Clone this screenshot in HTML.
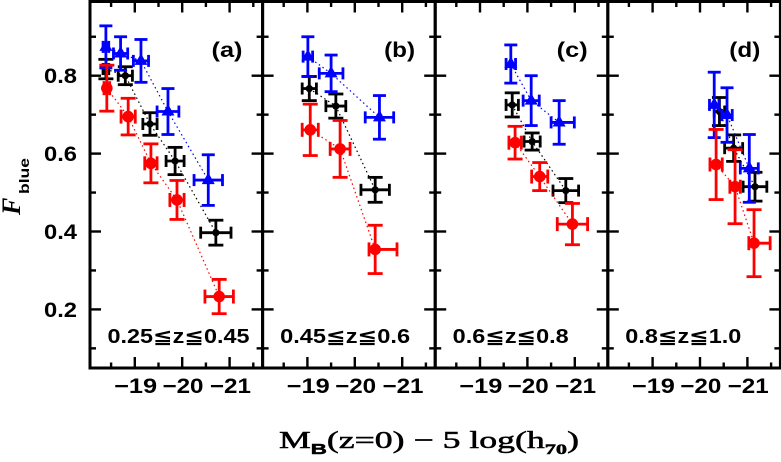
<!DOCTYPE html>
<html>
<head>
<meta charset="utf-8">
<title>F_blue vs magnitude</title>
<style>
html,body{margin:0;padding:0;background:#fff;width:781px;height:462px;overflow:hidden}
svg{display:block}
text{fill:#000;font-family:"Liberation Sans","DejaVu Sans",sans-serif;font-weight:bold}
</style>
</head>
<body>
<svg id="chart" xmlns="http://www.w3.org/2000/svg" width="781" height="462" viewBox="0 0 781 462">
<text x="279" y="448" font-size="24" textLength="300" lengthAdjust="spacingAndGlyphs" style="font-family:'Liberation Serif',serif;font-weight:normal;stroke:#000;stroke-width:0.5">M<tspan font-size="15" dy="6" style="font-family:'Liberation Sans',sans-serif;font-weight:bold">B</tspan><tspan dy="-6">(z=0) − 5 log(h</tspan><tspan font-size="15" dy="6" style="font-weight:bold">70</tspan><tspan dy="-6">)</tspan></text>
<text transform="translate(20,215) rotate(-90)" font-size="26" style="font-family:'Liberation Serif',serif;font-style:italic">F</text>
<text transform="translate(29,194) rotate(-90)" font-size="14" textLength="36" lengthAdjust="spacingAndGlyphs" style="font-family:'Liberation Sans',sans-serif">blue</text>
</svg>
<script>
const panelLetters = ['(a)', '(b)', '(c)', '(d)'];
const redshiftLabels = ['0.25≦z≦0.45', '0.45≦z≦0.6', '0.6≦z≦0.8', '0.8≦z≦1.0'];
const yMajorTicks = [0.2, 0.4, 0.6, 0.8];
const yMinorTicks = [0.1, 0.3, 0.5, 0.7, 0.9];
const yTickLabels = ['0.2', '0.4', '0.6', '0.8'];
const xMajorTicks = [19, 20, 21];
const xMinorTicks = [18.5, 19.5, 20.5, 21.5];
const xTickLabels = ['−19', '−20', '−21'];

const magBlueA = [18.39, 18.70, 19.13, 19.70, 20.55];
const fracBlueA = [0.874, 0.857, 0.838, 0.708, 0.532];
const fracErrBlueA = [0.054, 0.043, 0.055, 0.059, 0.065];
const magErrLoBlueA = [0.06, 0.15, 0.16, 0.23, 0.30];
const magErrHiBlueA = [0.06, 0.15, 0.16, 0.23, 0.30];

const magBlackA = [18.39, 18.80, 19.32, 19.85, 20.71];
const fracBlackA = [0.817, 0.800, 0.676, 0.581, 0.397];
const fracErrBlackA = [0.025, 0.023, 0.029, 0.035, 0.032];
const magErrLoBlackA = [0.06, 0.15, 0.15, 0.19, 0.32];
const magErrHiBlackA = [0.06, 0.15, 0.15, 0.19, 0.32];

const magRedA = [18.41, 18.86, 19.34, 19.89, 20.78];
const fracRedA = [0.768, 0.695, 0.575, 0.481, 0.233];
const fracErrRedA = [0.059, 0.047, 0.050, 0.050, 0.044];
const magErrLoRedA = [0.06, 0.15, 0.13, 0.15, 0.30];
const magErrHiRedA = [0.06, 0.15, 0.13, 0.15, 0.30];

const magBlueB = [19.01, 19.50, 20.52];
const fracBlueB = [0.849, 0.806, 0.693];
const fracErrBlueB = [0.051, 0.047, 0.056];
const magErrLoBlueB = [0.10, 0.25, 0.30];
const magErrHiBlueB = [0.10, 0.25, 0.30];

const magBlackB = [19.04, 19.60, 20.43];
const fracBlackB = [0.767, 0.722, 0.507];
const fracErrBlackB = [0.031, 0.031, 0.032];
const magErrLoBlackB = [0.15, 0.21, 0.30];
const magErrHiBlackB = [0.15, 0.21, 0.30];

const magRedB = [19.06, 19.69, 20.43];
const fracRedB = [0.661, 0.612, 0.354];
const fracErrRedB = [0.066, 0.073, 0.062];
const magErrLoRedB = [0.17, 0.21, 0.13];
const magErrHiRedB = [0.17, 0.21, 0.46];

const magBlueC = [19.65, 20.08, 20.67];
const fracBlueC = [0.830, 0.736, 0.680];
const fracErrBlueC = [0.049, 0.064, 0.056];
const magErrLoBlueC = [0.10, 0.17, 0.17];
const magErrHiBlueC = [0.10, 0.17, 0.32];

const magBlackC = [19.68, 20.10, 20.81];
const fracBlackC = [0.725, 0.631, 0.505];
const fracErrBlackC = [0.031, 0.022, 0.031];
const magErrLoBlackC = [0.13, 0.17, 0.27];
const magErrHiBlackC = [0.13, 0.17, 0.27];

const magRedC = [19.74, 20.26, 20.95];
const fracRedC = [0.628, 0.541, 0.419];
const fracErrRedC = [0.042, 0.036, 0.053];
const magErrLoRedC = [0.13, 0.17, 0.32];
const magErrHiRedC = [0.13, 0.17, 0.32];

const magBlueD = [20.30, 20.57, 21.04];
const fracBlueD = [0.725, 0.699, 0.562];
const fracErrBlueD = [0.084, 0.070, 0.087];
const magErrLoBlueD = [0.10, 0.11, 0.19];
const magErrHiBlueD = [0.10, 0.11, 0.19];

const magBlackD = [20.41, 20.71, 21.16];
const fracBlackD = [0.708, 0.614, 0.515];
const fracErrBlackD = [0.036, 0.034, 0.037];
const magErrLoBlackD = [0.11, 0.19, 0.25];
const magErrHiBlackD = [0.11, 0.19, 0.25];

const magRedD = [20.34, 20.74, 21.14];
const fracRedD = [0.572, 0.515, 0.370];
const fracErrRedD = [0.090, 0.095, 0.086];
const magErrLoRedD = [0.13, 0.11, 0.11];
const magErrHiRedD = [0.13, 0.11, 0.34];

const seriesByPanel = [
  { black: [magBlackA, fracBlackA, fracErrBlackA, magErrLoBlackA, magErrHiBlackA],
    blue: [magBlueA, fracBlueA, fracErrBlueA, magErrLoBlueA, magErrHiBlueA],
    red: [magRedA, fracRedA, fracErrRedA, magErrLoRedA, magErrHiRedA] },
  { black: [magBlackB, fracBlackB, fracErrBlackB, magErrLoBlackB, magErrHiBlackB],
    blue: [magBlueB, fracBlueB, fracErrBlueB, magErrLoBlueB, magErrHiBlueB],
    red: [magRedB, fracRedB, fracErrRedB, magErrLoRedB, magErrHiRedB] },
  { black: [magBlackC, fracBlackC, fracErrBlackC, magErrLoBlackC, magErrHiBlackC],
    blue: [magBlueC, fracBlueC, fracErrBlueC, magErrLoBlueC, magErrHiBlueC],
    red: [magRedC, fracRedC, fracErrRedC, magErrLoRedC, magErrHiRedC] },
  { black: [magBlackD, fracBlackD, fracErrBlackD, magErrLoBlackD, magErrHiBlackD],
    blue: [magBlueD, fracBlueD, fracErrBlueD, magErrLoBlueD, magErrHiBlueD],
    red: [magRedD, fracRedD, fracErrRedD, magErrLoRedD, magErrHiRedD] }
];

const NS = 'http://www.w3.org/2000/svg';
const svg = document.getElementById('chart');
const plotLeft = 90;
const panelW = 172.6;
const plotTop = 1.5;
const plotBottom = 368;
const xScale = 47.4;
const yScale = 389.5;
const seriesColors = { black: '#000000', blue: '#0000ff', red: '#ff0000' };
const seriesOrder = ['black', 'blue', 'red'];
const zLabelWidths = [142, 130, 116, 116];

function panelLeft(p) { return plotLeft + p * panelW; }
function xPos(p, mag) { return panelLeft(p) + 44.8 + (mag - 19) * xScale; }
function yPos(v) { return 75.7 + (0.8 - v) * yScale; }

function make(tag, attrs, parent) {
  const el = document.createElementNS(NS, tag);
  for (const k in attrs) el.setAttribute(k, attrs[k]);
  (parent || svg).appendChild(el);
  return el;
}
function segment(g, x1, y1, x2, y2, color, w) {
  return make('line', { x1: x1, y1: y1, x2: x2, y2: y2, stroke: color, 'stroke-width': w }, g);
}

seriesByPanel.forEach(function (panel, p) {
  const left = panelLeft(p);
  const right = left + panelW;
  const group = make('g', {});
  
  

  const frame = make('rect', { x: left, y: plotTop, width: panelW, height: plotBottom - plotTop, fill: 'none', stroke: '#000', 'stroke-width': 3 }, group);
  
  

  yMajorTicks.forEach(function (v) {
    segment(group, left, yPos(v), left + 11, yPos(v), '#000', 2.4);
    segment(group, right - 11, yPos(v), right, yPos(v), '#000', 2.4);
  });
  yMinorTicks.forEach(function (v) {
    segment(group, left, yPos(v), left + 6, yPos(v), '#000', 2.4);
    segment(group, right - 6, yPos(v), right, yPos(v), '#000', 2.4);
  });
  xMajorTicks.forEach(function (m, i) {
    const x = xPos(p, m);
    segment(group, x, plotBottom - 11, x, plotBottom, '#000', 2.4);
    segment(group, x, plotTop, x, plotTop + 11, '#000', 2.4);
    const label = make('text', { x: x + 0.8, y: 393, 'font-size': 21, 'text-anchor': 'middle', textLength: i === 0 ? 43 : 41, lengthAdjust: 'spacingAndGlyphs' }, group);
    label.textContent = xTickLabels[i];
    
    
  });
  xMinorTicks.forEach(function (m) {
    const x = xPos(p, m);
    segment(group, x, plotBottom - 5.5, x, plotBottom, '#000', 2.4);
    segment(group, x, plotTop, x, plotTop + 5.5, '#000', 2.4);
  });

  const letter = make('text', { x: left + 137, y: 57, 'font-size': 21, 'text-anchor': 'middle', textLength: 31, lengthAdjust: 'spacingAndGlyphs' }, group);
  letter.textContent = panelLetters[p];
  
  

  const zText = make('text', { x: left + 17.5, y: 343, 'font-size': 20, textLength: zLabelWidths[p], lengthAdjust: 'spacingAndGlyphs' }, group);
  zText.textContent = redshiftLabels[p];
  
  

  seriesOrder.forEach(function (key) {
    const color = seriesColors[key];
    const s = panel[key];
    const mags = s[0], fracs = s[1], fErr = s[2], lo = s[3], hi = s[4];
    const sg = make('g', {}, group);
    
    

    const pts = mags.map(function (m, i) { return xPos(p, m).toFixed(1) + ',' + yPos(fracs[i]).toFixed(1); }).join(' ');
    const trend = make('polyline', { points: pts, fill: 'none', stroke: color, 'stroke-width': 1.2, 'stroke-dasharray': '1.5 3' }, sg);
    
    

    mags.forEach(function (m, i) {
      const x = xPos(p, m), y = yPos(fracs[i]);
      const yT = yPos(fracs[i] + fErr[i]), yB = yPos(fracs[i] - fErr[i]);
      const xL = xPos(p, m - lo[i]), xR = xPos(p, m + hi[i]);
      const capY = key === 'blue' ? 6.5 : 7.5;
      const capX = key === 'red' ? 7 : 6;
      const w = 2.8;
      segment(sg, x, yT, x, yB, color, w);
      segment(sg, x - capY, yT, x + capY, yT, color, w);
      segment(sg, x - capY, yB, x + capY, yB, color, w);
      segment(sg, xL, y, xR, y, color, w);
      segment(sg, xL, y - capX, xL, y + capX, color, w);
      segment(sg, xR, y - capX, xR, y + capX, color, w);
      let mark;
      if (key === 'blue') {
        mark = make('polygon', { points: [x, y - 7.5, x + 6.5, y + 4, x - 6.5, y + 4].join(' '), fill: color }, sg);
      } else {
        mark = make('circle', { cx: x, cy: y, r: key === 'red' ? 5.8 : 3.6, fill: color }, sg);
      }
      
      
    });
  });
});

yMajorTicks.forEach(function (v, i) {
  const t = make('text', { x: 77, y: yPos(v) + 7.5, 'font-size': 21, 'text-anchor': 'end', textLength: 33, lengthAdjust: 'spacingAndGlyphs' });
  t.textContent = yTickLabels[i];
  
  
});
</script>
</body>
</html>
